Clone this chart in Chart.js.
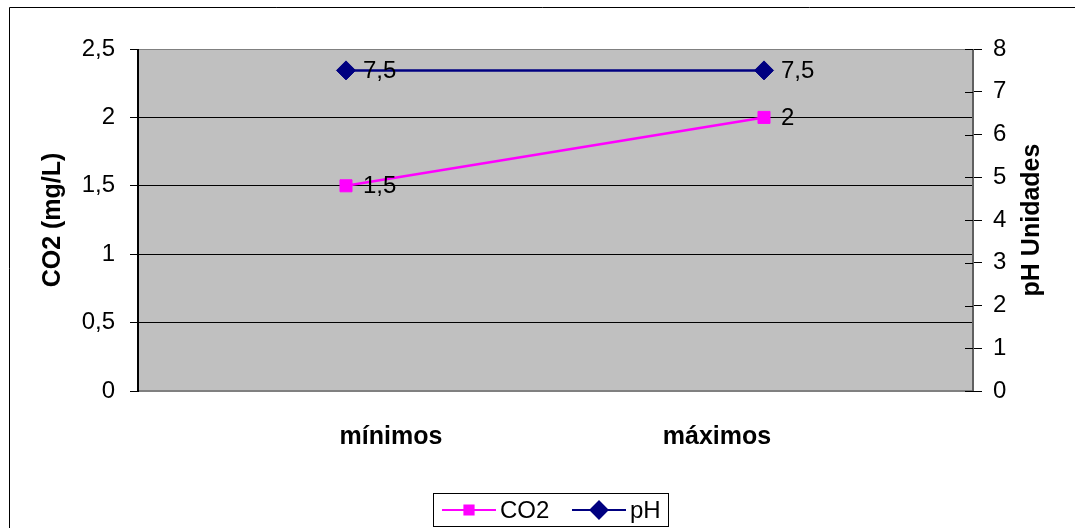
<!DOCTYPE html>
<html>
<head>
<meta charset="utf-8">
<script src="https://cdn.jsdelivr.net/npm/chart.js@4/dist/chart.umd.min.js"></script>
<style>
  html, body { margin: 0; padding: 0; background: #fff; }
  canvas { display: block; }
</style>
</head>
<body>
<canvas id="chart" width="1075" height="528"></canvas>
<script>
const categories = ["mínimos", "máximos"];
const co2Values = [1.5, 2];
const phValues = [7.5, 7.5];
const co2Ticks = [0, 0.5, 1, 1.5, 2, 2.5];
const phTicks = [0, 1, 2, 3, 4, 5, 6, 7, 8];

const FONT = "'Liberation Sans', Arial, sans-serif";
const comma = (v) => String(v).replace(".", ",");

// category labels sit pulled in toward the middle of the plot
const labelShift = [45, -47];

// gray plot area, frame, outer border, axis titles, value labels and legend
const decorPlugin = {
  id: "decor",
  beforeDraw: (chart) => {
    const { ctx, chartArea: a } = chart;
    ctx.save();
    ctx.fillStyle = "#fff";
    ctx.fillRect(0, 0, chart.width, chart.height);
    ctx.fillStyle = "#c0c0c0";
    ctx.fillRect(a.left, a.top, a.right - a.left, a.bottom - a.top);
    // outer chart border (runs off the right and bottom edges)
    ctx.strokeStyle = "#000";
    ctx.lineWidth = 1;
    ctx.beginPath();
    ctx.moveTo(9.5, chart.height + 2);
    ctx.lineTo(9.5, 7.5);
    ctx.lineTo(chart.width + 2, 7.5);
    ctx.stroke();
    ctx.restore();
  },
  beforeDatasetsDraw: (chart) => {
    const { ctx, chartArea: a } = chart;
    ctx.save();
    ctx.strokeStyle = "#808080";
    ctx.lineWidth = 1;
    ctx.beginPath();
    ctx.moveTo(a.left, a.top + 0.5);
    ctx.lineTo(a.right, a.top + 0.5);
    ctx.stroke();
    ctx.lineWidth = 2;
    ctx.beginPath();
    ctx.moveTo(a.left, a.bottom);
    ctx.lineTo(a.right, a.bottom);
    ctx.stroke();
    ctx.strokeStyle = "#606060";
    ctx.beginPath();
    ctx.moveTo(a.right, a.top);
    ctx.lineTo(a.right, a.bottom);
    ctx.stroke();
    ctx.strokeStyle = "#000";
    ctx.beginPath();
    ctx.moveTo(a.left + 1, a.top);
    ctx.lineTo(a.left + 1, a.bottom + 1);
    ctx.stroke();
    // inner half of the right-axis tick marks
    const y2 = chart.scales.y2;
    ctx.lineWidth = 1;
    ctx.strokeStyle = "#000";
    y2.ticks.forEach((t, i) => {
      const py = Math.round(y2.getPixelForTick(i)) + 0.5;
      ctx.beginPath();
      ctx.moveTo(a.right - 8, py);
      ctx.lineTo(a.right, py);
      ctx.stroke();
    });
    ctx.restore();
  },
  afterDatasetsDraw: (chart) => {
    const { ctx, chartArea: a } = chart;
    ctx.save();
    ctx.fillStyle = "#000";
    ctx.font = "24px " + FONT;
    ctx.textAlign = "left";
    ctx.textBaseline = "middle";
    chart.data.datasets.forEach((ds, di) => {
      chart.getDatasetMeta(di).data.forEach((pt, i) => {
        ctx.fillText(comma(ds.data[i]), pt.x + 17, pt.y + 1);
      });
    });

    // category labels
    const xs = chart.scales.x;
    ctx.font = "bold 25px " + FONT;
    ctx.textAlign = "center";
    chart.data.labels.forEach((lab, i) => {
      ctx.fillText(lab, xs.getPixelForValue(i) + labelShift[i], a.bottom + 46);
    });

    // axis titles, both reading bottom to top
    const midY = (a.top + a.bottom) / 2;
    [["CO2 (mg/L)", 53], ["pH Unidades", 1032]].forEach(([text, x]) => {
      ctx.save();
      ctx.translate(x, midY);
      ctx.rotate(-Math.PI / 2);
      ctx.fillText(text, 0, 0);
      ctx.restore();
    });

    // legend
    ctx.strokeStyle = "#000";
    ctx.lineWidth = 1;
    ctx.strokeRect(433.5, 493.5, 235, 33);
    const ly = 510;
    const items = [
      { x: 442, radius: 6.5 },
      { x: 572, radius: 8.5 },
    ];
    ctx.font = "24px " + FONT;
    ctx.textAlign = "left";
    chart.data.datasets.forEach((ds, di) => {
      const it = items[di];
      ctx.strokeStyle = ds.borderColor;
      ctx.lineWidth = 2;
      ctx.beginPath();
      ctx.moveTo(it.x, ly);
      ctx.lineTo(it.x + 54, ly);
      ctx.stroke();
      ctx.fillStyle = ds.pointBackgroundColor;
      Chart.helpers.drawPoint(ctx, {
        pointStyle: ds.pointStyle, radius: it.radius, rotation: 0, borderWidth: 1,
      }, it.x + 27, ly);
      ctx.fillStyle = "#000";
      ctx.fillText(ds.label, it.x + 58, ly + 1);
    });
    ctx.restore();
  },
};

new Chart(document.getElementById("chart"), {
  type: "line",
  data: {
    labels: categories,
    datasets: [
      {
        label: "CO2",
        data: co2Values,
        yAxisID: "y",
        borderColor: "#ff00ff",
        backgroundColor: "#ff00ff",
        pointBackgroundColor: "#ff00ff",
        pointBorderColor: "#ff00ff",
        pointStyle: "rect",
        pointRadius: 8.5,
        pointBorderWidth: 1,
        borderWidth: 2.5,
      },
      {
        label: "pH",
        data: phValues,
        yAxisID: "y2",
        borderColor: "#000080",
        backgroundColor: "#000080",
        pointBackgroundColor: "#000080",
        pointBorderColor: "#000080",
        pointStyle: "rectRot",
        pointRadius: 9.5,
        pointBorderWidth: 1,
        borderWidth: 2.5,
      },
    ],
  },
  options: {
    responsive: false,
    animation: false,
    layout: { padding: { top: 49, left: 0, right: 0, bottom: 0 } },
    plugins: {
      legend: { display: false },
      tooltip: { enabled: false },
    },
    scales: {
      x: {
        offset: true,
        grid: { display: false, drawTicks: false },
        border: { display: false },
        ticks: { display: false },
        afterFit: (s) => { s.height = 137; },
      },
      y: {
        position: "left",
        min: 0,
        max: 2.5,
        afterBuildTicks: (s) => { s.ticks = co2Ticks.map((v) => ({ value: v })); },
        grid: {
          color: (c) => (c.tick && c.tick.value > 0 && c.tick.value < 2.5 ? "#000" : "rgba(0,0,0,0)"),
          tickColor: "#000",
          tickLength: 7,
          lineWidth: 1,
        },
        border: { display: false },
        ticks: {
          color: "#000",
          padding: 15,
          font: { family: FONT, size: 24 },
          callback: (v) => comma(v),
        },
        afterFit: (s) => { s.width = 137; },
      },
      y2: {
        position: "right",
        min: 0,
        max: 8,
        afterBuildTicks: (s) => { s.ticks = phTicks.map((v) => ({ value: v })); },
        grid: { drawOnChartArea: false, color: "#000", tickColor: "#000", tickLength: 9 },
        border: { display: false },
        ticks: {
          color: "#000",
          padding: 11,
          font: { family: FONT, size: 24 },
          callback: (v) => comma(v),
        },
        afterFit: (s) => { s.width = 102; },
      },
    },
  },
  plugins: [decorPlugin],
});
</script>
</body>
</html>
